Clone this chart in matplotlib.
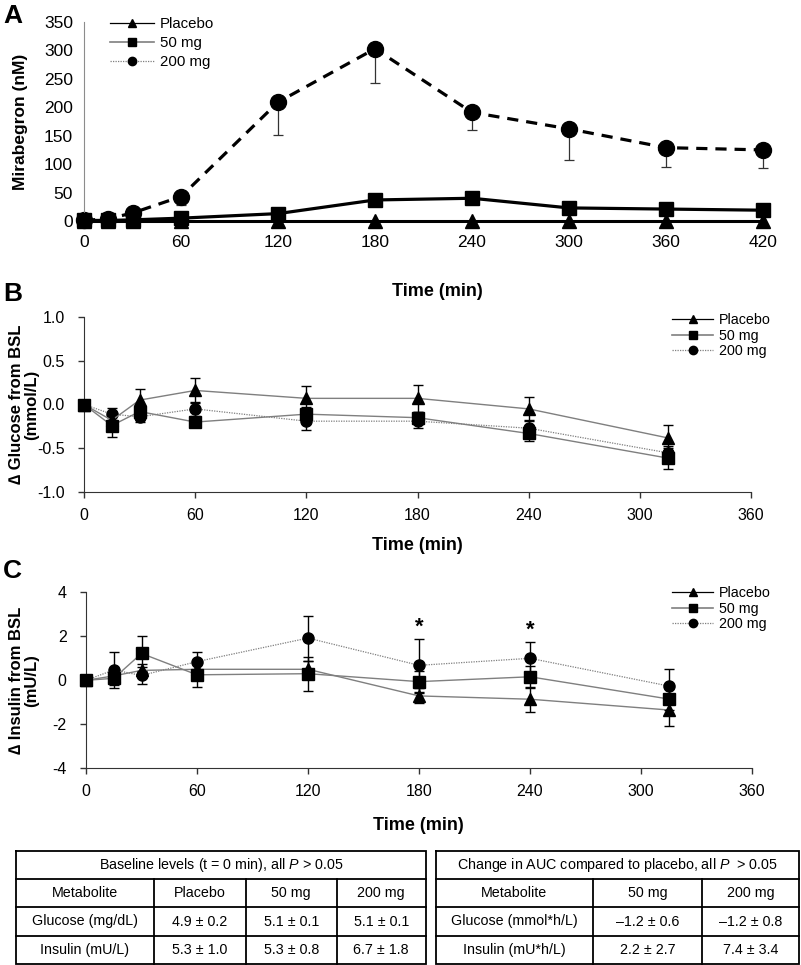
import numpy as np
import matplotlib
matplotlib.use('Agg')
import matplotlib.pyplot as plt
from matplotlib.lines import Line2D

plt.rcParams['font.family'] = ['Liberation Sans', 'DejaVu Sans']
plt.rcParams['mathtext.fontset'] = 'custom'
plt.rcParams['mathtext.rm'] = 'Liberation Sans'
plt.rcParams['mathtext.it'] = 'Liberation Sans:italic'

W, H = 801, 965
GROUPS = ['Placebo', '50 mg', '200 mg']

# panel A: plasma mirabegron
A_TIME = [0, 15, 30, 60, 120, 180, 240, 300, 360, 420]
A_PLACEBO = [0, 0, 0, 0, 0, 0, 0, 0, 0, 0]
A_50 = [1, 1, 2, 5, 13, 37, 40, 23, 21, 19]
A_50_SEM = [0, 0, 0, 1, 2, 4, 4, 3, 2, 2]
A_200 = [1, 4, 14, 43, 209, 303, 191, 162, 129, 125]
A_200_SEM = [0, 1, 3, 15, 58, 60, 31, 54, 34, 31]

# panel B: glucose change from baseline
BC_TIME = [0, 15, 30, 60, 120, 180, 240, 315]
B_PLACEBO = [0, -0.18, 0.05, 0.16, 0.07, 0.07, -0.05, -0.38]
B_PLACEBO_SEM = [0, 0.08, 0.13, 0.14, 0.14, 0.15, 0.13, 0.15]
B_50 = [0, -0.24, -0.08, -0.20, -0.11, -0.15, -0.33, -0.61]
B_50_SEM = [0, 0.13, 0.08, 0.06, 0.08, 0.07, 0.09, 0.12]
B_200 = [0, -0.11, -0.14, -0.05, -0.19, -0.19, -0.27, -0.55]
B_200_SEM = [0, 0.07, 0.06, 0.08, 0.10, 0.08, 0.08, 0.08]

# panel C: insulin change from baseline
C_PLACEBO = [0, 0.2, 0.45, 0.5, 0.5, -0.71, -0.86, -1.35]
C_PLACEBO_SEM = [0, 0.3, 0.3, 0.3, 0.4, 0.34, 0.57, 0.73]
C_50 = [0, 0.09, 1.22, 0.25, 0.3, -0.06, 0.16, -0.85]
C_50_SEM = [0, 0.3, 0.8, 0.55, 0.78, 0.5, 0.5, 0.5]
C_200 = [0, 0.47, 0.22, 0.85, 1.92, 0.68, 1.0, -0.26]
C_200_SEM = [0, 0.8, 0.4, 0.45, 1.02, 1.2, 0.73, 0.77]
C_STAR_TIMES = [180, 240]

# tables
T1_TITLE = 'Baseline levels (t = 0 min), all $P$ > 0.05'
T1_HEAD = ['Metabolite', 'Placebo', '50 mg', '200 mg']
T1_ROWS = [['Glucose (mg/dL)', '4.9 ± 0.2', '5.1 ± 0.1', '5.1 ± 0.1'],
           ['Insulin (mU/L)', '5.3 ± 1.0', '5.3 ± 0.8', '6.7 ± 1.8']]
T2_TITLE = 'Change in AUC compared to placebo, all $P$  > 0.05'
T2_HEAD = ['Metabolite', '50 mg', '200 mg']
T2_ROWS = [['Glucose (mmol*h/L)', '–1.2 ± 0.6', '–1.2 ± 0.8'],
           ['Insulin (mU*h/L)', '2.2 ± 2.7', '7.4 ± 3.4']]

GRAY = '#7f7f7f'
fig = plt.figure(figsize=(W / 100, H / 100), dpi=100)


def box(l, t, r, b):
    return [l / W, 1 - b / H, (r - l) / W, (b - t) / H]


def legend_handles(ms):
    return [Line2D([], [], color='black', lw=0.9, marker='^', ms=ms, mfc='black', mec='black'),
            Line2D([], [], color=GRAY, lw=1.2, marker='s', ms=ms, mfc='black', mec='black'),
            Line2D([], [], color=GRAY, lw=0.9, ls=(0, (1, 1)), marker='o', ms=ms, mfc='black', mec='black')]


def add_legend(x, y, fs, spacing):
    fig.legend(legend_handles(6), GROUPS, loc='upper left', bbox_to_anchor=(x / W, 1 - y / H),
               bbox_transform=fig.transFigure, frameon=False, fontsize=fs, handlelength=2.9,
               handletextpad=0.4, labelspacing=spacing, borderpad=0, borderaxespad=0)


# ---------------- A ----------------
axA = fig.add_axes(box(84, 22, 763, 221))
axA.errorbar(A_TIME, A_200, yerr=[A_200_SEM, np.zeros(len(A_200_SEM))], color='black', lw=2.3,
             ls=(0, (3.5, 2.5)), marker='o', ms=11.5, ecolor='#333333', elinewidth=0.9, capsize=3.5,
             capthick=0.9, zorder=2, clip_on=False)
axA.errorbar(A_TIME, A_PLACEBO, color='black', lw=2.2, marker='^', ms=10, zorder=3, clip_on=False)
axA.errorbar(A_TIME, A_50, yerr=[A_50_SEM, np.zeros(len(A_50_SEM))], color='black', lw=2.3, marker='s',
             ms=10.5, ecolor='#333333', elinewidth=0.9, capsize=3.5, zorder=4, clip_on=False)
axA.set_xlim(0, 420)
axA.set_ylim(0, 350)
axA.set_xticks(range(0, 421, 60))
axA.set_yticks(range(0, 351, 50))
axA.tick_params(length=0, labelsize=12.5, pad=10)
axA.tick_params(axis='y', pad=8)
for s in ['top', 'right']:
    axA.spines[s].set_visible(False)
axA.spines['left'].set_color('#8c8c8c')
axA.spines['bottom'].set_color('black')
axA.set_ylabel('Mirabegron (nM)', fontsize=12.5, fontweight='bold')
axA.yaxis.set_label_coords((28 - 84) / 679, 0.5)
fig.text(437 / W, 1 - 291 / H, 'Time (min)', ha='center', va='center', fontsize=13, fontweight='bold')
fig.text(3 / W, 1 - 16 / H, 'A', ha='left', va='center', fontsize=19, fontweight='bold')
add_legend(110, 17, 10.8, 0.33)


def small_panel(rect, left, p, ps, m, ms_, h, hs, ylim, yticks, fmt):
    ax = fig.add_axes(rect)
    ekw = dict(ecolor='black', elinewidth=1.0, capsize=3.5, capthick=1.0, clip_on=False)
    ax.errorbar(BC_TIME, h, yerr=hs, color=GRAY, lw=0.9, ls=(0, (1, 1)), marker='o', ms=8,
                mfc='black', mec='black', zorder=2, **ekw)
    ax.errorbar(BC_TIME, p, yerr=ps, color=GRAY, lw=1.0, marker='^', ms=8.5,
                mfc='black', mec='black', zorder=3, **ekw)
    ax.errorbar(BC_TIME, m, yerr=ms_, color=GRAY, lw=1.0, marker='s', ms=9,
                mfc='black', mec='black', zorder=4, **ekw)
    ax.set_xlim(0, 360)
    ax.set_ylim(*ylim)
    ax.set_xticks(range(0, 361, 60))
    ax.set_yticks(yticks)
    ax.set_yticklabels([fmt.format(v) for v in yticks])
    ax.tick_params(length=4, width=1, labelsize=11.5, color='#333333')
    ax.tick_params(axis='x', pad=7)
    ax.tick_params(axis='y', pad=10)
    for s in ['top', 'right']:
        ax.spines[s].set_visible(False)
    for s in ['left', 'bottom']:
        ax.spines[s].set_color('#333333')
    width_px = rect[2] * W
    ax.yaxis.set_label_coords((39 - left) / width_px, 0.5)
    return ax


# ---------------- B ----------------
axB = small_panel(box(84, 316.7, 751, 492.3), 84, B_PLACEBO, B_PLACEBO_SEM, B_50, B_50_SEM,
                  B_200, B_200_SEM, (-1, 1), [-1.0, -0.5, 0.0, 0.5, 1.0], '{:.1f}')
axB.set_ylabel('\u2206 Glucose from BSL\n(mmol/L)', fontsize=12, fontweight='bold', linespacing=1.0)
fig.text(417 / W, 1 - 546 / H, 'Time (min)', ha='center', va='center', fontsize=13, fontweight='bold')
fig.text(3 / W, 1 - 294 / H, 'B', ha='left', va='center', fontsize=19, fontweight='bold')
add_legend(672, 313, 10.3, 0.12)

# ---------------- C ----------------
axC = small_panel(box(86, 592.3, 752, 768.3), 86, C_PLACEBO, C_PLACEBO_SEM, C_50, C_50_SEM,
                  C_200, C_200_SEM, (-4, 4), [-4, -2, 0, 2, 4], '{:d}')
axC.set_ylabel('\u2206 Insulin from BSL\n(mU/L)', fontsize=12, fontweight='bold', linespacing=1.0)
for t in C_STAR_TIMES:
    i = BC_TIME.index(t)
    axC.annotate('*', (t, C_200[i] + C_200_SEM[i]), xytext=(0, 1), textcoords='offset points',
                 ha='center', va='bottom', fontsize=16, fontweight='bold')
fig.text(418 / W, 1 - 826 / H, 'Time (min)', ha='center', va='center', fontsize=13, fontweight='bold')
fig.text(3 / W, 1 - 571 / H, 'C', ha='left', va='center', fontsize=19, fontweight='bold')
add_legend(672, 586, 10.3, 0.12)

# ---------------- tables ----------------
tab = fig.add_axes([0, 0, 1, 1])
tab.set_xlim(0, W)
tab.set_ylim(H, 0)
tab.axis('off')
ROWS_Y = [851, 879.3, 907.3, 935.7, 963.5]


def draw_table(cols, title, head, rows):
    lw = 1.3
    l, r = cols[0], cols[-1]
    tab.plot([l, r, r, l, l], [ROWS_Y[0], ROWS_Y[0], ROWS_Y[-1], ROWS_Y[-1], ROWS_Y[0]],
             color='black', lw=lw, solid_joinstyle='miter')
    for y in ROWS_Y[1:-1]:
        tab.plot([l, r], [y, y], color='black', lw=lw)
    for x in cols[1:-1]:
        tab.plot([x, x], [ROWS_Y[1], ROWS_Y[-1]], color='black', lw=lw)
    tab.text((l + r) / 2, (ROWS_Y[0] + ROWS_Y[1]) / 2, title, ha='center', va='center', fontsize=10.3)
    for k, row in enumerate([head] + rows):
        yc = (ROWS_Y[k + 1] + ROWS_Y[k + 2]) / 2
        for j, txt in enumerate(row):
            tab.text((cols[j] + cols[j + 1]) / 2, yc, txt, ha='center', va='center', fontsize=10.3)


draw_table([16, 154, 245.7, 336.7, 425.7], T1_TITLE, T1_HEAD, T1_ROWS)
draw_table([435.7, 593.3, 701.7, 799], T2_TITLE, T2_HEAD, T2_ROWS)

fig.savefig('out.png', dpi=100)
